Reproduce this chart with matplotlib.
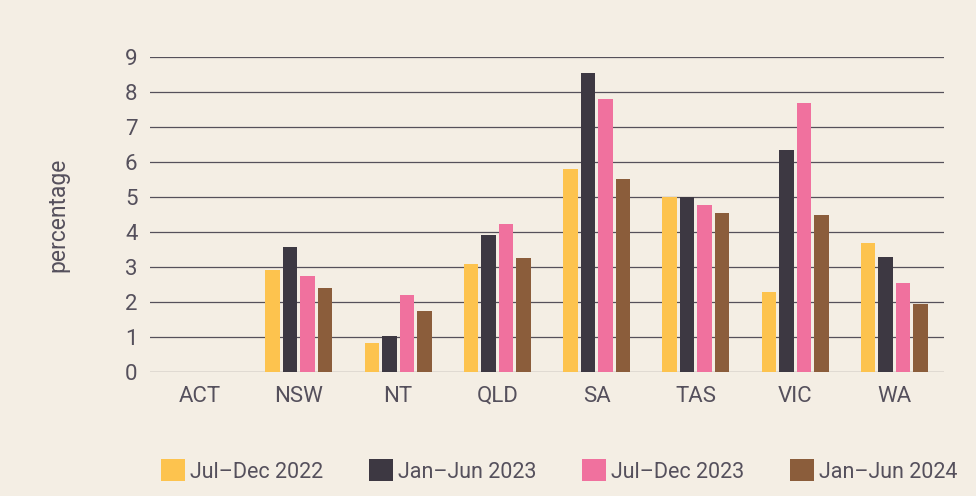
import matplotlib
matplotlib.use("Agg")
import matplotlib.pyplot as plt
import numpy as np

categories = ["ACT", "NSW", "NT", "QLD", "SA", "TAS", "VIC", "WA"]
series_names = ["Jul–Dec 2022", "Jan–Jun 2023", "Jul–Dec 2023", "Jan–Jun 2024"]
jul_dec_2022 = [0, 2.91, 0.81, 3.07, 5.80, 5.00, 2.28, 3.68]
jan_jun_2023 = [0, 3.56, 1.02, 3.92, 8.56, 5.00, 6.35, 3.29]
jul_dec_2023 = [0, 2.74, 2.19, 4.23, 7.81, 4.77, 7.69, 2.54]
jan_jun_2024 = [0, 2.40, 1.74, 3.25, 5.52, 4.54, 4.48, 1.94]
yticks = [0, 1, 2, 3, 4, 5, 6, 7, 8, 9]

series = [jul_dec_2022, jan_jun_2023, jul_dec_2023, jan_jun_2024]
colors = ["#FDC34E", "#3D3842", "#F0719E", "#8B5D3B"]
bg = "#F4EEE4"
text_color = "#55505C"

plt.rcParams["font.family"] = ["Roboto", "DejaVu Sans"]

fig = plt.figure(figsize=(9.76, 4.96), dpi=100, facecolor=bg)
ax = fig.add_axes([150/976, 1-371.7/496, (944-150)/976, (371.7-57.3)/496])
ax.set_facecolor(bg)

x = np.arange(len(categories))
stride = 0.176
width = 0.146
handles = []
for i, (vals, c, name) in enumerate(zip(series, colors, series_names)):
    offs = (i - 1.5) * stride
    b = ax.bar(x + offs, vals, width=width, color=c, label=name, zorder=3)
    handles.append(b)

ax.set_xlim(-0.5, len(categories) - 0.5)
ax.set_ylim(0, 9)
ax.set_yticks(yticks)
ax.set_xticks(x)
ax.set_xticklabels(categories)
ax.grid(axis="y", color="#55505A", linewidth=0.9, zorder=0)
ax.grid(axis="x", visible=False)
for s in ax.spines.values():
    s.set_visible(False)
ax.tick_params(axis="both", length=0, labelsize=16, colors=text_color)
ax.tick_params(axis="y", pad=9)
ax.tick_params(axis="x", pad=10)

ax.set_ylabel("percentage", fontsize=16.5, color=text_color, labelpad=40)

leg = fig.legend(handles=handles, labels=series_names, loc="center",
                 bbox_to_anchor=(559.5/976, 1-471/496), ncol=4, frameon=False,
                 fontsize=15.5, handlelength=1.1, handleheight=1.2,
                 handletextpad=0.25, columnspacing=2.12)
for t in leg.get_texts():
    t.set_color(text_color)

fig.savefig("out.png", dpi=100, facecolor=bg)
